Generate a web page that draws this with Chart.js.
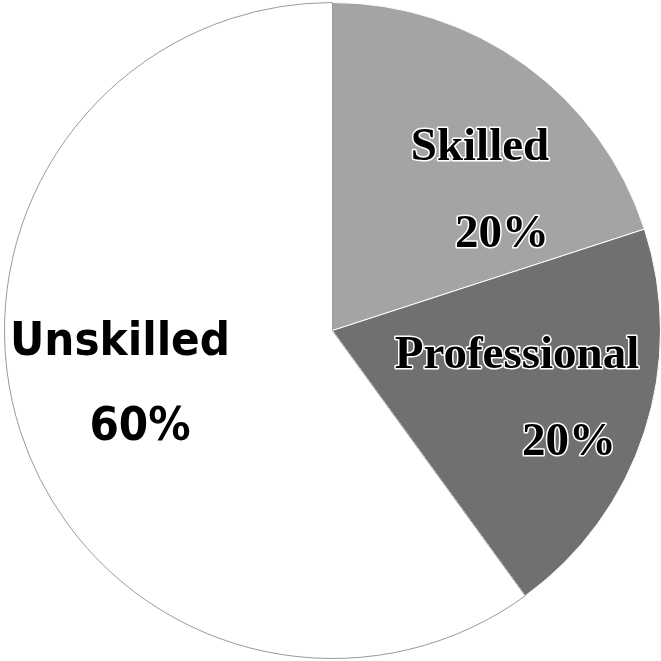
<!DOCTYPE html>
<html>
<head>
<meta charset="utf-8">
<script src="https://cdn.jsdelivr.net/npm/chart.js@4/dist/chart.umd.min.js"></script>
<style>
  html, body { margin: 0; padding: 0; background: #fff; }
  #wrap { width: 661px; height: 661px; }
</style>
</head>
<body>
<div id="wrap"><canvas id="pieChart" width="661" height="661"></canvas></div>
<script>
const categories = ["Skilled", "Professional", "Unskilled"];
const shares = [20, 20, 60];

const sliceColors = ["#a4a4a4", "#707070", "#ffffff"];
const sliceBorders = ["#ffffff", "#ffffff", "#9a9a9a"];

// where each label sits (name line, percent line) - x, baseline y
const labelStyle = [
    { font: "bold 47px 'Liberation Serif', 'Times New Roman', serif", name: [480, 160], pct: [502, 247], halo: true },
    { font: "bold 47px 'Liberation Serif', 'Times New Roman', serif", name: [517, 368], pct: [569, 455], halo: true },
    { font: "bold 47px 'DejaVu Sans Condensed', 'DejaVu Sans', sans-serif", name: [120, 355], pct: [140, 440], halo: false }
];

const sliceLabels = {
    id: "sliceLabels",
    afterDatasetsDraw(chart) {
        const ctx = chart.ctx;
        ctx.save();
        ctx.textAlign = "center";
        ctx.textBaseline = "alphabetic";
        chart.data.labels.forEach((label, i) => {
            const s = labelStyle[i];
            const value = chart.data.datasets[0].data[i];
            const lines = [[label, s.name], [value + "%", s.pct]];
            ctx.font = s.font;
            lines.forEach(([text, pos]) => {
                if (s.halo) {
                    ctx.lineJoin = "round";
                    ctx.lineWidth = 3;
                    ctx.strokeStyle = "#ffffff";
                    ctx.strokeText(text, pos[0], pos[1]);
                }
                ctx.fillStyle = "#000000";
                ctx.fillText(text, pos[0], pos[1]);
            });
        });
        ctx.restore();
    }
};

const pieChartCtx = document.getElementById("pieChart").getContext("2d");
let pieChart = new Chart(pieChartCtx, {
    type: "pie",
    data: {
        labels: categories,
        datasets: [{
            data: shares,
            backgroundColor: sliceColors,
            borderColor: sliceBorders,
            borderWidth: 1
        }]
    },
    options: {
        responsive: false,
        animation: false,
        layout: { padding: { left: 4, right: 0, top: 0, bottom: 0 } },
        plugins: {
            legend: { display: false },
            tooltip: { enabled: false }
        }
    },
    plugins: [sliceLabels]
});
</script>
</body>
</html>
